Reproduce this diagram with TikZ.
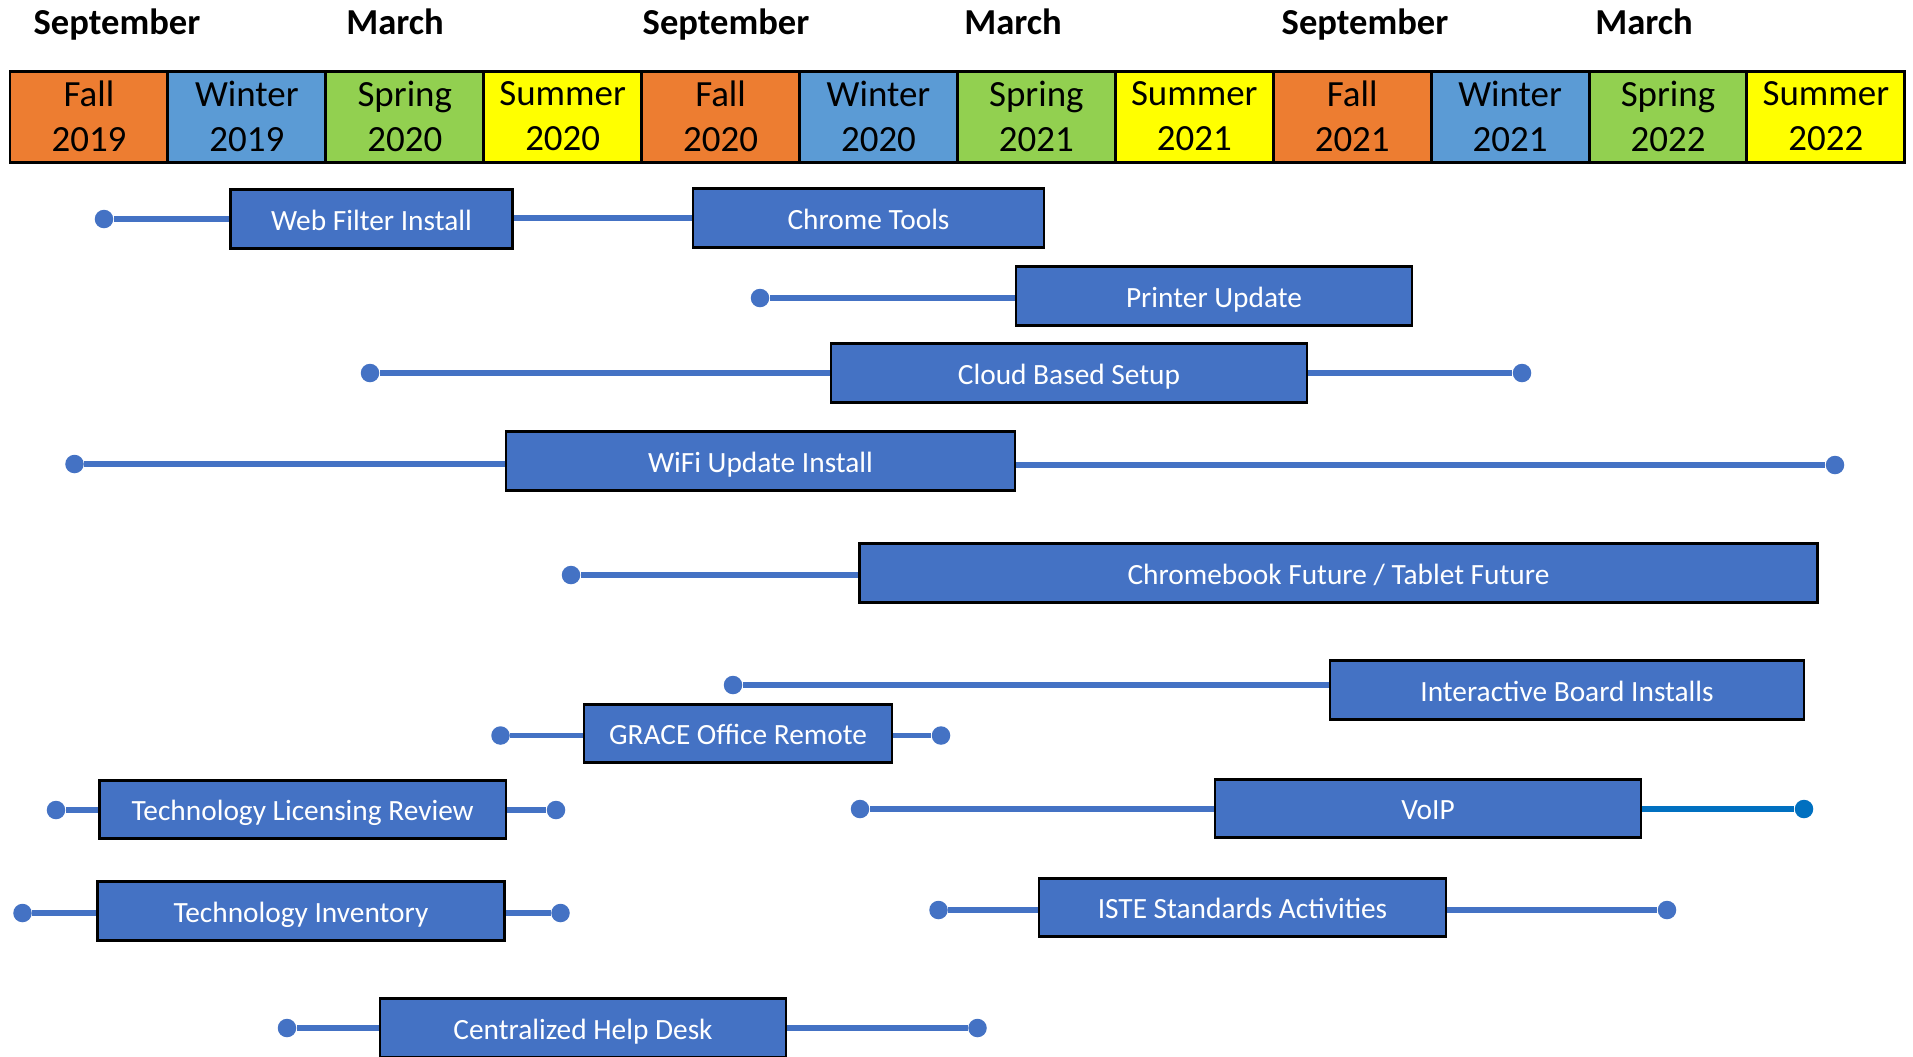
\documentclass[tikz,border=0pt]{standalone}
\usepackage{fontspec}
\setmainfont{Carlito}
\usepackage{xcolor}
\definecolor{fallc}{HTML}{ED7D31}
\definecolor{winterc}{HTML}{5B9BD5}
\definecolor{springc}{HTML}{92D050}
\definecolor{summerc}{HTML}{FFFF00}
\definecolor{barblue}{HTML}{4472C4}
\definecolor{voipblue}{HTML}{0070C0}

\begin{document}
\begin{tikzpicture}[x=0.01cm,y=-0.01cm,
    month/.style={anchor=base,font=\bfseries\fontsize{10.4}{12}\selectfont},
    season/.style={draw=black,line width=0.85pt,anchor=north west,inner sep=0pt,
      minimum width=1.579cm,minimum height=0.91cm,align=center,
      font=\fontsize{10.5}{12.8}\selectfont},
    task/.style={draw=black,line width=0.75pt,fill=barblue,text=white,inner sep=0pt,
      minimum height=0.585cm,text height=0.644em,text depth=0pt,
      font=\fontsize{8.35}{10}\selectfont},
    link/.style={draw=barblue,line width=1.65pt},
    enddot/.style={circle,fill=barblue,inner sep=0pt,minimum size=0.185cm}]

    \fill[white] (0,0) rectangle (1913,1056);
    \useasboundingbox (0,0) rectangle (1913,1056);

    \node[month] (m1) at (117,34) {September};
    \node[month] (m2) at (395,34) {March};
    \node[month] (m3) at (726,34) {September};
    \node[month] (m4) at (1013,34) {March};
    \node[month] (m5) at (1365,34) {September};
    \node[month] (m6) at (1644,34) {March};

    \foreach \i/\sname/\syear/\scol in {0/Fall/2019/fallc, 1/Winter/2019/winterc,
        2/Spring/2020/springc, 3/Summer/2020/summerc, 4/Fall/2020/fallc,
        5/Winter/2020/winterc, 6/Spring/2021/springc, 7/Summer/2021/summerc,
        8/Fall/2021/fallc, 9/Winter/2021/winterc, 10/Spring/2022/springc,
        11/Summer/2022/summerc}
      \node[season,fill=\scol] (s\i) at (8.5+157.9*\i,69.5) {\sname\\\syear};

    \node[task,minimum width=2.82cm] (wf) at (371.5,219) {Web Filter Install};
    \node[task,minimum width=3.51cm] (ct) at (868.5,218) {Chrome Tools};
    \node[task,minimum width=3.96cm] (pu) at (1214,296) {Printer Update};
    \node[task,minimum width=4.76cm] (cb) at (1069,373) {Cloud Based Setup};
    \node[task,minimum width=5.09cm] (wifi) at (760.5,461) {WiFi Update Install};
    \node[task,minimum width=9.57cm] (chb) at (1338.5,573) {Chromebook Future / Tablet Future};
    \node[task,minimum width=4.74cm] (ib) at (1567,690) {Interactive Board Installs};
    \node[task,minimum width=3.08cm] (gr) at (738,733.5) {GRACE Office Remote};
    \node[task,minimum width=4.065cm] (tlr) at (302.75,809.5) {Technology Licensing Review};
    \node[task,minimum width=4.26cm] (voip) at (1428,808.5) {VoIP};
    \node[task,minimum width=4.07cm] (ti) at (301,911) {Technology Inventory};
    \node[task,minimum width=4.07cm] (iste) at (1242.5,907.5) {ISTE Standards Activities};
    \node[task,minimum width=4.06cm] (hd) at (583,1028) {Centralized Help Desk};

    \node[enddot] (wfL) at (104,219) {};
    \node[enddot] (puL) at (760,298) {};
    \node[enddot] (cbL) at (370,373) {};
    \node[enddot] (cbR) at (1522,373) {};
    \node[enddot] (wifiL) at (74.5,464) {};
    \node[enddot] (wifiR) at (1835,465) {};
    \node[enddot] (chbL) at (571,575) {};
    \node[enddot] (ibL) at (733,685) {};
    \node[enddot] (grL) at (500.5,735.5) {};
    \node[enddot] (grR) at (941,735.5) {};
    \node[enddot] (tlrL) at (56,810) {};
    \node[enddot] (tlrR) at (556,810) {};
    \node[enddot] (voipL) at (860,809) {};
    \node[enddot,fill=voipblue] (voipR) at (1804,809) {};
    \node[enddot] (tiL) at (22.5,913) {};
    \node[enddot] (tiR) at (560.5,913) {};
    \node[enddot] (isteL) at (938.5,910) {};
    \node[enddot] (isteR) at (1667,910) {};
    \node[enddot] (hdL) at (287,1028) {};
    \node[enddot] (hdR) at (977.5,1028) {};

    \draw[link] (wfL) -- (wfL -| wf.west);
    \draw[link] (wf.east |- ct.west) -- (ct.west);
    \draw[link] (puL) -- (puL -| pu.west);
    \draw[link] (cbL) -- (cbL -| cb.west);
    \draw[link] (cb.east |- cbR) -- (cbR);
    \draw[link] (wifiL) -- (wifiL -| wifi.west);
    \draw[link] (wifi.east |- wifiR) -- (wifiR);
    \draw[link] (chbL) -- (chbL -| chb.west);
    \draw[link] (ibL) -- (ibL -| ib.west);
    \draw[link] (grL) -- (grL -| gr.west);
    \draw[link] (gr.east |- grR) -- (grR);
    \draw[link] (tlrL) -- (tlrL -| tlr.west);
    \draw[link] (tlr.east |- tlrR) -- (tlrR);
    \draw[link] (voipL) -- (voipL -| voip.west);
    \draw[link,draw=voipblue] (voip.east |- voipR) -- (voipR);
    \draw[link] (tiL) -- (tiL -| ti.west);
    \draw[link] (ti.east |- tiR) -- (tiR);
    \draw[link] (isteL) -- (isteL -| iste.west);
    \draw[link] (iste.east |- isteR) -- (isteR);
    \draw[link] (hdL) -- (hdL -| hd.west);
    \draw[link] (hd.east |- hdR) -- (hdR);
\end{tikzpicture}
\end{document}
